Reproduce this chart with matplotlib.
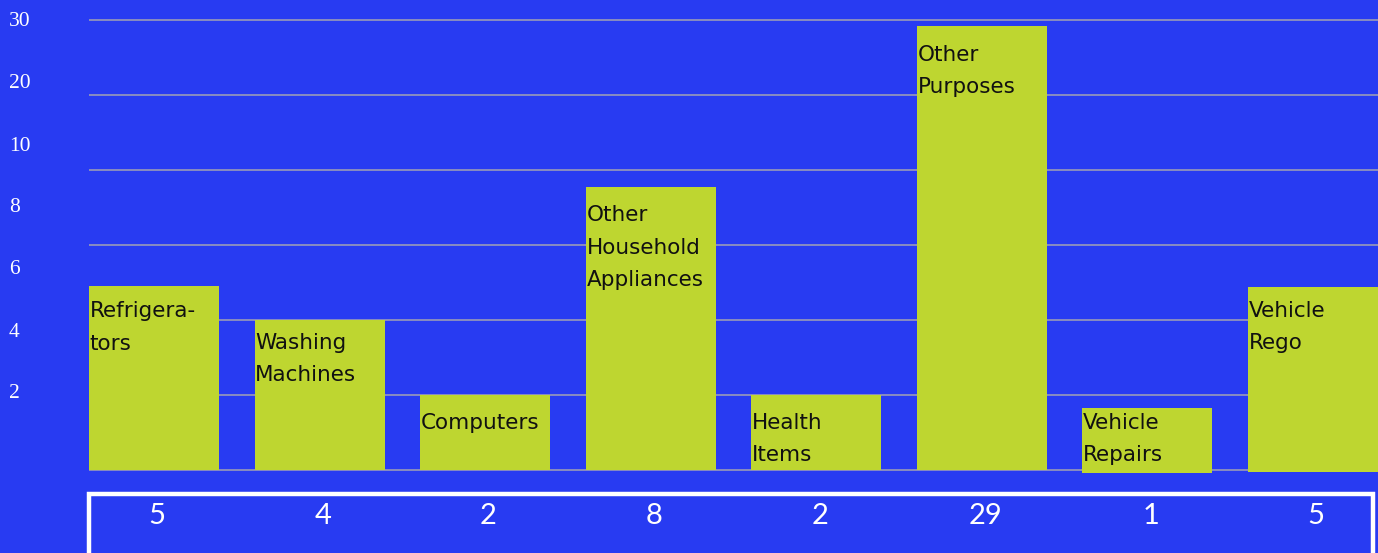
import matplotlib.pyplot as plt
import matplotlib.patches as patches
import matplotlib.transforms as mtransforms

categories = ['Refrigera-\ntors', 'Washing\nMachines', 'Computers', 'Other\nHousehold\nAppliances',
              'Health\nItems', 'Other\nPurposes', 'Vehicle\nRepairs', 'Vehicle\nRego']
counts = [5, 4, 2, 8, 2, 29, 1, 5]
# bar heights as drawn, in gridline steps (the picture's scale is not linear)
heights = [2.45, 2.0, 1.0, 3.77, 1.0, 5.92, 0.87, 2.47]
bottoms = [0, 0, 0, 0, 0, 0, -0.04, -0.03]
axis_labels = ['2', '4', '6', '8', '10', '20', '30']
axis_label_pos = [1.03, 1.85, 2.68, 3.51, 4.33, 5.16, 6.0]

bg = '#283bf2'
bar_color = '#bed630'
# small per-label nudges (pixels) so the in-bar text sits like in the original
label_nudge = [3, 5, 0, 0, 0, -1, 13, 4]

fig = plt.figure(figsize=(13.78, 5.53), dpi=100, facecolor=bg)
ax = fig.add_axes([89 / 1378, 73 / 553, 1289 / 1378, 480 / 553])
ax.set_facecolor(bg)

w = 0.785
x = list(range(len(counts)))
ax.bar(x, heights, width=w, bottom=bottoms, color=bar_color, zorder=2)
ax.set_xlim(-w / 2, len(counts) - 1 + w / 2)
ax.set_ylim(-10 / 75, 470 / 75)

for g in range(7):
    ax.axhline(g, color='#9a9ab8', lw=1.2, zorder=1)

for s in ax.spines.values():
    s.set_visible(False)
ax.set_xticks([])
ax.set_yticks([])

for i, lab in enumerate(categories):
    ax.annotate(lab, (i - w / 2, heights[i] + bottoms[i]), xytext=(0.7, -18 + label_nudge[i]),
                textcoords='offset pixels', ha='left', va='top', fontsize=15.5,
                family='DejaVu Sans', color='#111111', linespacing=1.78, zorder=3)

# y labels on the left
for lab, pos in zip(axis_labels, axis_label_pos):
    ax.annotate(lab, (0, pos), xycoords=('figure pixels', 'data'), xytext=(9, -1),
                textcoords='offset pixels', ha='left', va='center',
                fontsize=15.5, family='Liberation Serif', color='white')

# white box with counts
box = patches.Rectangle((89 / 1378, -0.05), (1373 - 89) / 1378, (553 - 494) / 553 + 0.05,
                        transform=fig.transFigure, fill=False, edgecolor='white', lw=3.2)
fig.patches.append(box)

trans = mtransforms.blended_transform_factory(ax.transData, fig.transFigure)
for i, c in enumerate(counts):
    ax.text(i + 0.02, 1 - 516 / 553, str(c), transform=trans, ha='center', va='center',
            fontsize=21, family='Lato', fontweight='normal', color='white', clip_on=False)

fig.savefig('out.png', dpi=100, facecolor=bg)
